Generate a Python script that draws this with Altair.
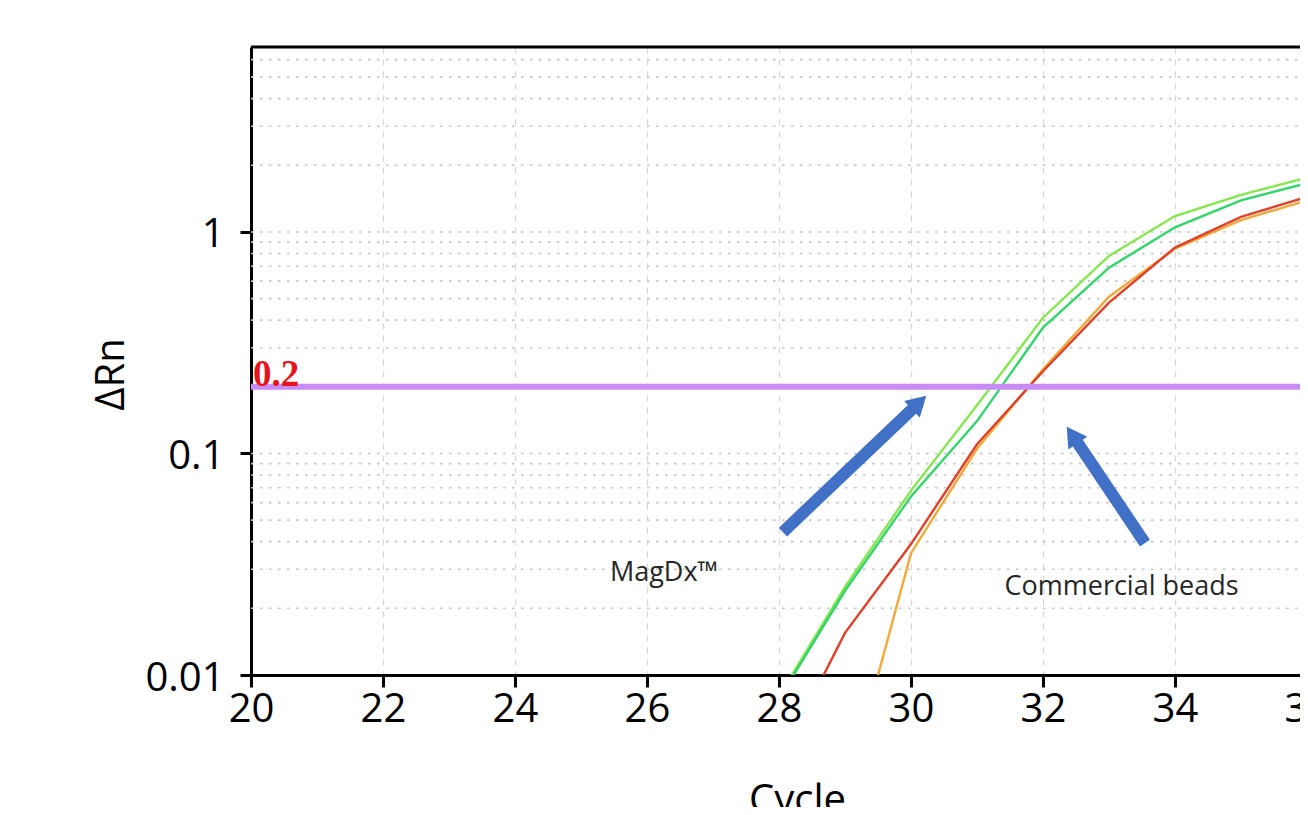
import altair as alt
import pandas as pd

# ---------------- data ----------------
cycles = [27, 28, 29, 30, 31, 32, 33, 34, 35, 36]
magdx_1 = [0.0030, 0.0080, 0.025, 0.068, 0.165, 0.41, 0.78, 1.18, 1.47, 1.76]
magdx_2 = [0.0029, 0.0078, 0.024, 0.064, 0.140, 0.37, 0.69, 1.05, 1.39, 1.66]
commercial_1 = [0.0015, 0.0040, 0.0155, 0.039, 0.110, 0.235, 0.48, 0.85, 1.17, 1.44]
commercial_2 = [0.00005, 0.0003, 0.0028, 0.0355, 0.105, 0.24, 0.51, 0.84, 1.13, 1.39]

series_names = ["MagDx 1", "MagDx 2", "Commercial 1", "Commercial 2"]
series_colors = ["#86e64f", "#33d46a", "#f2a93a", "#e0402a"]

x_ticks = [20, 22, 24, 26, 28, 30, 32, 34, 36]
y_ticks = [0.01, 0.1, 1]
y_minor = [0.02, 0.03, 0.04, 0.05, 0.06, 0.07, 0.08, 0.09,
           0.1, 0.2, 0.3, 0.4, 0.5, 0.6, 0.7, 0.8, 0.9,
           1, 2, 3, 4, 5, 6]
x_domain = [20, 36.0152]
y_domain = [0.01, 6.84]

threshold = [0.2]
threshold_label = ["0.2"]

arrow_x = [28.06, 33.545]
arrow_y = [0.0442, 0.0394]
arrow_head_x = [30.123, 32.444]
arrow_head_y = [0.1698, 0.1213]
arrow_angle = [46.5, 326.1]

note_text = ["MagDx™", "Commercial beads"]
note_x = [26.258, 33.19]
note_y = [0.02657, 0.02297]

# ---------------- tables ----------------
rows = []
for name, vals in zip(series_names,
                      [magdx_1, magdx_2, commercial_2, commercial_1]):
    for c, v in zip(cycles, vals):
        rows.append({"cycle": c, "drn": v, "series": name})
curves = pd.DataFrame(rows)
grid_df = pd.DataFrame({"drn": y_minor, "cycle": [x_domain[0]] * len(y_minor),
                        "cycle2": [x_domain[1]] * len(y_minor)})
thr_df = pd.DataFrame({"drn": threshold, "label": threshold_label,
                       "cycle": [x_domain[0]], "cycle2": [x_domain[1]]})
arrows_df = pd.DataFrame({"cycle": arrow_x, "drn": arrow_y,
                          "cycle2": arrow_head_x, "drn2": arrow_head_y,
                          "angle": arrow_angle})
notes_df = pd.DataFrame({"cycle": note_x, "drn": note_y, "text": note_text})
border_df = pd.DataFrame({"cycle": [x_domain[0]], "cycle2": [x_domain[1]],
                          "drn": [y_domain[1]]})

FONT = "Open Sans"

x_scale = alt.Scale(domain=x_domain, nice=False, zero=False, range=[0, 1057])
y_scale = alt.Scale(type="log", domain=y_domain, nice=False)

x_axis = alt.Axis(values=x_ticks, title="Cycle", labelFont=FONT, labelFontSize=40,
                  labelColor="black", titleFont=FONT, titleFontSize=40,
                  titleFontWeight="normal", titleColor="black",
                  domainColor="black", domainWidth=3, tickColor="black",
                  tickWidth=3, tickSize=12, labelPadding=2, labelFlush=False,
                  labelOverlap=False, grid=True, gridDash=[6, 6],
                  gridColor="#d6d6d6", gridWidth=1.2,
                  titleX=546, titleY=137, titleBaseline="alphabetic",
                  titleAlign="center")
y_axis = alt.Axis(values=y_ticks, format="~g", title="ΔRn", labelFont=FONT,
                  labelFontSize=40, labelColor="black", titleFont=FONT,
                  titleFontSize=40, titleFontWeight="normal", titleColor="black",
                  domainColor="black", domainWidth=3, tickColor="black",
                  tickWidth=3, tickSize=11, labelPadding=16, labelOffset=3,
                  grid=False, titleAngle=270, titleX=-128, titleY=327,
                  titleBaseline="alphabetic", titleAlign="center")

X = alt.X("cycle:Q", scale=x_scale, axis=x_axis)
Y = alt.Y("drn:Q", scale=y_scale, axis=y_axis)

hgrid = alt.Chart(grid_df).mark_rule(
    color="#c4c4c4", strokeWidth=1.6, strokeDash=[2.5, 6.5]
).encode(x=X, x2="cycle2:Q", y=Y)

lines = alt.Chart(curves).mark_line(strokeWidth=2.4, clip=True).encode(
    x=X, y=Y,
    color=alt.Color("series:N", scale=alt.Scale(domain=series_names,
                                                range=series_colors),
                    legend=None),
    order=alt.Order("cycle:Q"),
)

thr_rule = alt.Chart(thr_df).mark_rule(color="#c98bf5", strokeWidth=6).encode(
    x=X, x2="cycle2:Q", y=Y)

thr_text = alt.Chart(thr_df).mark_text(
    font="Liberation Serif", fontWeight="bold", fontSize=37,
    color="#e8141c", align="left", baseline="alphabetic", dx=2, dy=-1
).encode(x=X, y=Y, text="label:N")

arrow_shaft = alt.Chart(arrows_df).mark_rule(
    color="#4171c6", strokeWidth=12, strokeCap="butt"
).encode(x=X, y=Y, x2="cycle2:Q", y2="drn2:Q")

arrow_head = alt.Chart(arrows_df).mark_point(
    shape="triangle-up", filled=True, size=520, color="#4171c6", opacity=1
).encode(
    x=alt.X("cycle2:Q", scale=x_scale, axis=x_axis),
    y=alt.Y("drn2:Q", scale=y_scale, axis=y_axis),
    angle=alt.Angle("angle:Q", scale=None),
)

notes = alt.Chart(notes_df).mark_text(
    font=FONT, fontSize=27, color="#262626", align="center", baseline="alphabetic"
).encode(x=X, y=Y, text="text:N")

border = alt.Chart(border_df).mark_rule(color="black", strokeWidth=3, clip=False).encode(
    x=X, x2="cycle2:Q", y=Y
)

chart = alt.layer(hgrid, lines, thr_rule, thr_text, arrow_shaft, arrow_head,
                  notes, border).properties(
    width=1049, height=628,
    autosize=alt.AutoSizeParams(type="none"),
    padding={"left": 243, "top": 39, "right": 0, "bottom": 132},
    background="white",
).configure_view(stroke=None)

chart.save("out.html", embed_options={"renderer": "svg", "actions": False})
